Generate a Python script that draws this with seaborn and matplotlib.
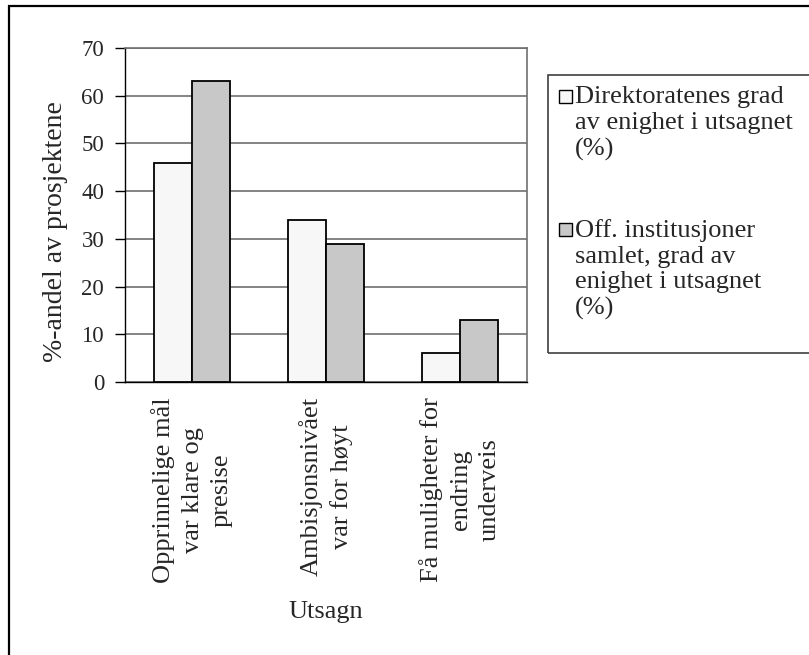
import matplotlib
matplotlib.use("Agg")
import matplotlib.pyplot as plt
from matplotlib.patches import Rectangle
import seaborn as sns
import pandas as pd

# data
categories = ["Opprinnelige mål\nvar klare og\npresise",
              "Ambisjonsnivået\nvar for høyt",
              "Få muligheter for\nendring\nunderveis"]
series_names = ["Direktoratenes grad\nav enighet i utsagnet\n(%)",
                "Off. institusjoner\nsamlet, grad av\nenighet i utsagnet\n(%)"]
direktorat = [46, 34, 6]
off_inst = [63, 29, 13]
colors = ["#F7F7F7", "#C8C8C8"]
y_ticks = [0, 10, 20, 30, 40, 50, 60, 70]

df = pd.DataFrame({
    "Utsagn": categories * 2,
    "Andel": direktorat + off_inst,
    "Serie": [series_names[0]] * 3 + [series_names[1]] * 3,
})

sns.set_style("white")
plt.rcParams["font.family"] = ["Liberation Serif", "DejaVu Serif"]

W, H = 809, 655
fig = plt.figure(figsize=(W / 100, H / 100), dpi=100)


def fx(x):
    return x / W


def fy(y):
    return 1 - y / H


ax = fig.add_axes([fx(125), fy(382), fx(527) - fx(125), fy(48) - fy(382)])

sns.barplot(data=df, x="Utsagn", y="Andel", hue="Serie", palette=colors,
            width=0.56, edgecolor="black", linewidth=1.3, legend=False,
            saturation=1, ax=ax, zorder=3)

ax.set_ylim(0, 70)
ax.set_xlim(-0.5, 2.5)
ax.set_yticks(y_ticks)
ax.set_yticklabels([str(t) for t in y_ticks], fontsize=16.5)
ax.yaxis.grid(True, color="#707070", linewidth=1.2, zorder=0)
ax.set_axisbelow(True)

# ticks on group boundaries, labels at group centres
ax.set_xticks([-0.5, 0.5, 1.5, 2.5], minor=True)
ax.tick_params(axis="x", which="major", length=0, pad=11)
ax.tick_params(axis="x", which="minor", length=6, width=1, color="black", direction="out")
ax.tick_params(axis="y", length=7, width=1, color="black", direction="out", pad=8, left=True)
ax.set_xticklabels(categories, rotation=90, fontsize=19, linespacing=1.4,
                   multialignment="center")

for side in ["left", "bottom"]:
    ax.spines[side].set_color("black")
    ax.spines[side].set_linewidth(1.0)
for side in ["top", "right"]:
    ax.spines[side].set_color("#707070")
    ax.spines[side].set_linewidth(1.2)

ax.set_ylabel("%-andel av prosjektene", fontsize=20)
ax.yaxis.set_label_coords(-0.142, 0.45)
ax.set_xlabel("Utsagn", fontsize=19, va="top")
ax.xaxis.set_label_coords(0.5, -0.655)

# legend box, drawn by hand so the swatch sits at the first line
fig.patches.append(Rectangle((fx(548), fy(353)), fx(400), fy(75) - fy(353),
                             transform=fig.transFigure, fill=False,
                             edgecolor="#404040", linewidth=1.2))
for name, col, top in zip(series_names, colors, [86, 219]):
    fig.patches.append(Rectangle((fx(559), fy(top + 17)), fx(13), fy(0) - fy(13),
                                 transform=fig.transFigure, facecolor=col,
                                 edgecolor="black", linewidth=1))
    fig.text(fx(575), fy(top), name, fontsize=19, va="top", ha="left",
             linespacing=1.22)

# outer frame
fig.patches.append(Rectangle((fx(9), fy(900)), fx(1000), fy(6) - fy(900),
                             transform=fig.transFigure, fill=False,
                             edgecolor="black", linewidth=1.6))

fig.savefig("out.png", dpi=100)
